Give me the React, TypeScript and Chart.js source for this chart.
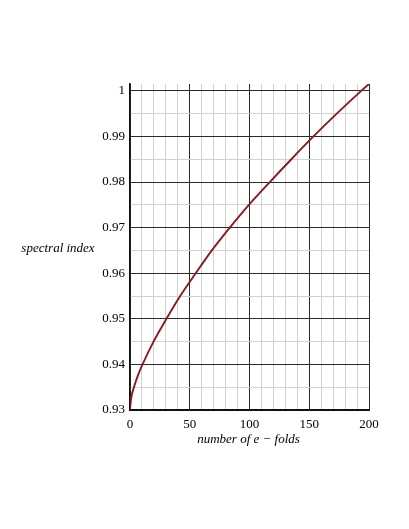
import React, { useEffect, useRef } from "react";
import { Chart, registerables } from "chart.js";

Chart.register(...registerables);

const efolds = [0, 0.3, 1.1, 3.3, 6.5, 10.5, 19.7, 30.5, 42, 55, 68.5, 83.5, 99.5, 117, 135, 153.5, 173, 193.5, 200];
const spectralIndex = [0.93, 0.931, 0.9328, 0.935, 0.9375, 0.94, 0.945, 0.95, 0.955, 0.96, 0.965, 0.97, 0.975, 0.98, 0.985, 0.99, 0.995, 1.0, 1.0015];

const xTickLabels = [0, 50, 100, 150, 200];
const yTickLabels = ["0.93", "0.94", "0.95", "0.96", "0.97", "0.98", "0.99", "1"];

const xTitle = "number of e \u2212 folds";
const yTitle = "spectral index";

const SERIF = "'Liberation Serif', 'Times New Roman', serif";
const MAJOR = "#2a2a2a";
const MINOR = "#d2d2d2";

const titlesPlugin = {
  id: "axisTitles",
  afterDraw(chart: any) {
    const ctx = chart.ctx;
    const area = chart.chartArea;
    ctx.save();
    ctx.fillStyle = "#000";
    ctx.font = `italic 13px ${SERIF}`;
    ctx.textBaseline = "middle";
    ctx.textAlign = "center";
    ctx.fillText(xTitle, (area.left + area.right) / 2 - 1, area.bottom + 30);
    ctx.fillText(yTitle, 58, 249);
    ctx.restore();
  },
};

export default function App() {
  const ref = useRef<HTMLCanvasElement | null>(null);
  useEffect(() => {
    if (!ref.current) return;
    const isMajorX = (v: number) => Math.round(v) % 50 === 0;
    const isMajorY = (v: number) => Math.round(v * 1000) % 10 === 0;
    const chart = new Chart(ref.current, {
      type: "line",
      data: {
        datasets: [
          {
            data: efolds.map((x, i) => ({ x, y: spectralIndex[i] })),
            borderColor: "#8b1a1f",
            borderWidth: 1.9,
            pointRadius: 0,
            cubicInterpolationMode: "monotone",
            fill: false,
          },
        ],
      },
      options: {
        animation: false,
        responsive: false,
        events: [],
        layout: { padding: { top: 84, right: 40, left: 0, bottom: 0 } },
        plugins: { legend: { display: false }, tooltip: { enabled: false } },
        scales: {
          x: {
            type: "linear",
            min: 0,
            max: 200,
            afterFit: (s: any) => {
              s.height = 119;
            },
            border: { display: true, color: "#111", width: 2 },
            grid: {
              drawTicks: false,
              color: (c: any) => (isMajorX(c.tick.value) ? MAJOR : MINOR),
              lineWidth: 1,
            },
            ticks: {
              stepSize: 10,
              autoSkip: false,
              maxRotation: 0,
              padding: 7,
              color: "#000",
              font: { family: SERIF, size: 13 },
              callback: (v: any) => {
                const n = Number(v);
                return xTickLabels.includes(Math.round(n)) && isMajorX(n) ? String(Math.round(n)) : "";
              },
            },
          },
          y: {
            type: "linear",
            min: 0.93,
            max: 1.0015,
            afterFit: (s: any) => {
              s.width = 130;
            },
            border: { display: true, color: "#111", width: 1.5 },
            grid: {
              drawTicks: false,
              color: (c: any) => (isMajorY(c.tick.value) ? MAJOR : MINOR),
              lineWidth: 1,
            },
            ticks: {
              stepSize: 0.005,
              includeBounds: false,
              autoSkip: false,
              padding: 5,
              color: "#000",
              font: { family: SERIF, size: 13 },
              callback: (v: any) => {
                const n = Number(v);
                if (!isMajorY(n)) return "";
                const idx = Math.round((n - 0.93) * 100);
                return yTickLabels[idx] ?? "";
              },
            },
          },
        },
      },
      plugins: [titlesPlugin],
    } as any);
    return () => chart.destroy();
  }, []);
  return (
    <div style={{ position: "absolute", left: 0, top: 0, width: 409, height: 529, background: "#fff" }}>
      <canvas ref={ref} width={409} height={529} style={{ display: "block" }} />
    </div>
  );
}
